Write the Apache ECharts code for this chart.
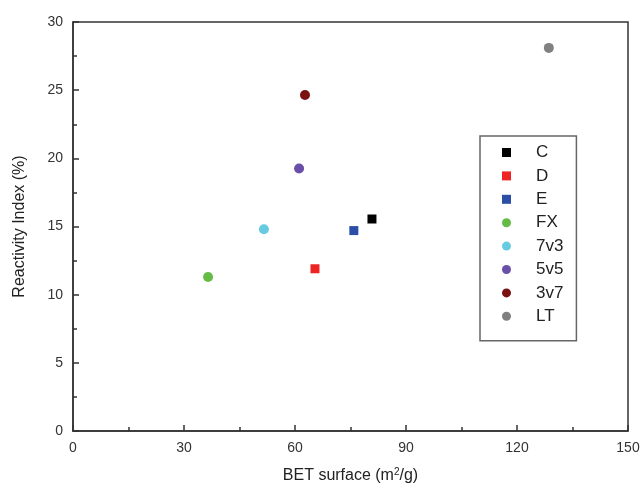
<!DOCTYPE html>
<html>
<head>
<meta charset="utf-8">
<script src="https://cdn.jsdelivr.net/npm/echarts@6/dist/echarts.min.js"></script>
<style>
  html, body { margin: 0; padding: 0; background: #fff; }
  #chart { width: 641px; height: 485px; }
</style>
</head>
<body>
<div id="chart"></div>
<script>
// samples and their measured values
var sampleNames = ["C", "D", "E", "FX", "7v3", "5v5", "3v7", "LT"];
var betSurface = [80.8, 65.4, 75.9, 36.5, 51.6, 61.1, 62.7, 128.6];
var reactivity = [15.55, 11.9, 14.7, 11.3, 14.8, 19.25, 24.65, 28.1];

var colors = ["#000000", "#ee2424", "#2b4fa6", "#64bb46", "#66cbe0", "#6a4fa8", "#7a1212", "#808080"];
var symbols = ["rect", "rect", "rect", "circle", "circle", "circle", "circle", "circle"];

var font = "Liberation Sans, Arial, sans-serif";
var chart = echarts.init(document.getElementById("chart"));

var series = sampleNames.map(function (name, i) {
    return {
        name: name,
        type: "scatter",
        symbol: symbols[i],
        symbolSize: symbols[i] === "rect" ? 9 : 10,
        itemStyle: { color: colors[i], opacity: 1 },
        data: [[betSurface[i], reactivity[i]]]
    };
});

chart.setOption({
    animation: false,
    grid: {
        left: 73, top: 22, right: 13, bottom: 54,
        outerBoundsMode: "none",
        show: true,
        borderColor: "#333",
        borderWidth: 1.5,
        backgroundColor: "transparent"
    },
    legend: {
        orient: "vertical",
        left: 480,
        top: 136,
        padding: [8, 13, 16, 22],
        itemWidth: 9,
        itemHeight: 9,
        itemGap: 6.4,
        borderColor: "#666",
        borderWidth: 1.5,
        textStyle: { fontFamily: font, fontSize: 17, color: "#222", lineHeight: 16, padding: [0, 0, 0, 20] },
        data: sampleNames
    },
    xAxis: {
        type: "value",
        min: 0, max: 150, interval: 30,
        name: "BET surface (m{sup|2}/g)",
        nameLocation: "middle",
        nameGap: 36,
        nameTextStyle: {
            fontFamily: font, fontSize: 16, color: "#222",
            rich: { sup: { fontSize: 10, verticalAlign: "top", padding: [0, 0, 8, 0], fontFamily: font, color: "#222" } }
        },
        axisLine: { lineStyle: { color: "#333", width: 1.5 } },
        axisTick: { inside: true, length: 6, lineStyle: { color: "#333", width: 1.5 } },
        minorTick: { show: true, splitNumber: 2, length: 4, lineStyle: { color: "#333", width: 1.5 } },
        splitLine: { show: false },
        axisLabel: { fontFamily: font, fontSize: 14, color: "#333", margin: 10 }
    },
    yAxis: {
        type: "value",
        min: 0, max: 30, interval: 5,
        name: "Reactivity Index (%)",
        nameLocation: "middle",
        nameGap: 45,
        nameTextStyle: { fontFamily: font, fontSize: 16, color: "#222" },
        axisLine: { lineStyle: { color: "#333", width: 1.5 } },
        axisTick: { inside: true, length: 6, lineStyle: { color: "#333", width: 1.5 } },
        minorTick: { show: true, splitNumber: 2, length: 4, lineStyle: { color: "#333", width: 1.5 } },
        splitLine: { show: false },
        axisLabel: { fontFamily: font, fontSize: 14, color: "#333", margin: 10 }
    },
    series: series
});
</script>
</body>
</html>
